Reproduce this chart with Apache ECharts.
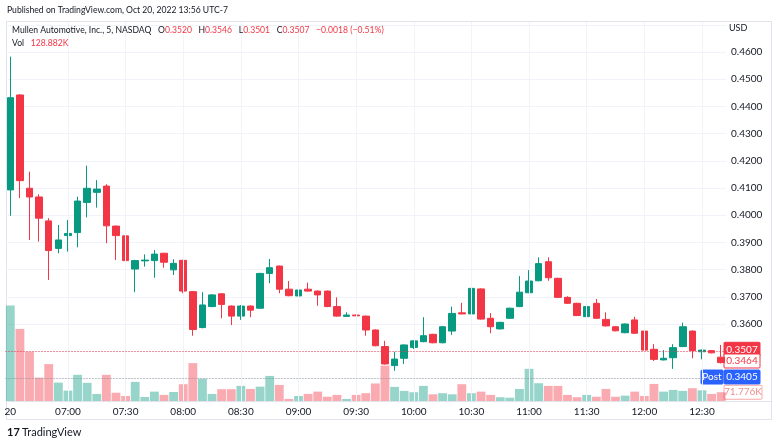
<!DOCTYPE html>
<html>
<head>
<meta charset="utf-8">
<script src="https://cdn.jsdelivr.net/npm/echarts@6/dist/echarts.min.js"></script>
<style>
  html, body { margin: 0; padding: 0; background: #fff; }
  #main { width: 772px; height: 439px; }
</style>
</head>
<body>
<div id="main"></div>
<script>
const times = [
  '06:30','06:35','06:40','06:45','06:50','06:55','07:00','07:05','07:10','07:15','07:20','07:25',
  '07:30','07:35','07:40','07:45','07:50','07:55','08:00','08:05','08:10','08:15','08:20','08:25',
  '08:30','08:35','08:40','08:45','08:50','08:55','09:00','09:05','09:10','09:15','09:20','09:25',
  '09:30','09:35','09:40','09:45','09:50','09:55','10:00','10:05','10:10','10:15','10:20','10:25',
  '10:30','10:35','10:40','10:45','10:50','10:55','11:00','11:05','11:10','11:15','11:20','11:25',
  '11:30','11:35','11:40','11:45','11:50','11:55','12:00','12:05','12:10','12:15','12:20','12:25',
  '12:30','12:35','12:40'
];
const gridTimes = ['07:00','07:30','08:00','08:30','09:00','09:30','10:00','10:30','11:00','11:30','12:00','12:30'];

const opens = [
  0.4093,0.4442,0.4099,0.4067,0.3979,0.3878,0.3925,0.3936,0.4047,0.4084,0.4107,0.3960,
  0.3924,0.3802,0.3832,0.3833,0.3860,0.3799,0.3834,0.3719,0.3587,0.3664,0.3711,0.3666,
  0.3629,0.3666,0.3658,0.3786,0.3813,0.3728,0.3703,0.3728,0.3721,0.3721,0.3664,0.3628,
  0.3633,0.3629,0.3578,0.3517,0.3447,0.3474,0.3514,0.3535,0.3562,0.3531,0.3574,0.3641,
  0.3637,0.3729,0.3621,0.3582,0.3621,0.3664,0.3715,0.3759,0.3829,0.3768,0.3698,0.3676,
  0.3627,0.3676,0.3617,0.3590,0.3568,0.3615,0.3574,0.3507,0.3468,0.3476,0.3517,0.3574,
  0.3498,0.3502,0.3478
];
const closes = [
  0.4432,0.4127,0.4067,0.3989,0.3870,0.3909,0.3933,0.4052,0.4099,0.4096,0.3961,0.3925,
  0.3833,0.3833,0.3835,0.3857,0.3827,0.3823,0.3721,0.3580,0.3670,0.3707,0.3672,0.3629,
  0.3666,0.3651,0.3786,0.3807,0.3728,0.3704,0.3725,0.3721,0.3707,0.3664,0.3629,0.3633,
  0.3630,0.3578,0.3520,0.3453,0.3471,0.3523,0.3538,0.3557,0.3531,0.3590,0.3639,0.3637,
  0.3731,0.3618,0.3590,0.3606,0.3658,0.3717,0.3758,0.3822,0.3770,0.3698,0.3676,0.3631,
  0.3664,0.3621,0.3593,0.3575,0.3600,0.3566,0.3504,0.3470,0.3474,0.3513,0.3590,0.3502,
  0.3504,0.3494,0.3458
];
const lows = [
  0.3998,0.4063,0.3909,0.3903,0.3762,0.3860,0.3866,0.3882,0.3992,0.4028,0.3897,0.3835,
  0.3799,0.3717,0.3811,0.3770,0.3807,0.3780,0.3713,0.3557,0.3584,0.3662,0.3621,0.3596,
  0.3615,0.3625,0.3656,0.3750,0.3713,0.3702,0.3698,0.3719,0.3667,0.3662,0.3627,0.3626,
  0.3629,0.3557,0.3518,0.3451,0.3428,0.3453,0.3508,0.3533,0.3529,0.3529,0.3560,0.3636,
  0.3635,0.3616,0.3566,0.3580,0.3619,0.3662,0.3713,0.3757,0.3759,0.3696,0.3674,0.3629,
  0.3625,0.3619,0.3591,0.3573,0.3566,0.3564,0.3502,0.3464,0.3466,0.3435,0.3515,0.3474,
  0.3470,0.3492,0.3455
];
const highs = [
  0.4583,0.4445,0.4160,0.4077,0.3989,0.3964,0.3982,0.4068,0.4182,0.4129,0.4114,0.3962,
  0.3960,0.3836,0.3856,0.3872,0.3862,0.3838,0.3836,0.3721,0.3717,0.3710,0.3712,0.3668,
  0.3670,0.3668,0.3788,0.3839,0.3815,0.3758,0.3737,0.3752,0.3723,0.3723,0.3698,0.3643,
  0.3634,0.3631,0.3580,0.3538,0.3498,0.3525,0.3540,0.3625,0.3564,0.3592,0.3664,0.3678,
  0.3733,0.3731,0.3640,0.3608,0.3660,0.3776,0.3798,0.3845,0.3845,0.3770,0.3702,0.3678,
  0.3666,0.3692,0.3643,0.3592,0.3602,0.3627,0.3576,0.3526,0.3504,0.3526,0.3605,0.3576,
  0.3506,0.3504,0.3523
];
// volume in thousands
const volumes = [
  784,592,404,192,303,151,85,215,149,58,215,68,
  41,157,33,77,50,74,138,311,182,58,97,97,
  124,99,118,206,132,17,41,58,77,35,50,17,
  50,64,144,291,116,83,72,124,55,64,55,138,
  64,77,50,31,27,99,264,146,124,124,50,31,
  50,35,99,35,44,77,41,140,77,91,83,105,
  88,58,72
];

const UP = '#089981', DOWN = '#F23645';
const FONT = 'Lato, "Noto Sans", sans-serif';
const TXT = '#131722';

const candleData = times.map((t, i) => [opens[i], closes[i], lows[i], highs[i]]);
const volData = volumes.map((v, i) => ({
  value: v,
  itemStyle: { color: closes[i] >= opens[i] ? 'rgba(8,153,129,0.42)' : 'rgba(242,54,69,0.42)' }
}));

const chart = echarts.init(document.getElementById('main'));

const option = {
  animation: false,
  backgroundColor: '#fff',
  grid: [
    { left: 5.5, right: 46, top: 24.8, bottom: 60.6 },   // price: 0.47 .. 0.34
    { left: 5.5, right: 46, top: 305.5, bottom: 38 },    // volume
    { left: 5.5, right: 46, top: 22, bottom: 38 }        // frame for vertical grid lines
  ],
  xAxis: [
    { gridIndex: 0, type: 'category', data: times, show: false },
    {
      gridIndex: 1, type: 'category', data: times,
      axisLine: { show: false },
      axisTick: { show: false },
      axisLabel: {
        interval: 5, color: TXT, fontSize: 10, fontFamily: FONT, margin: 6,
        formatter: (v, i) => i === 0 ? '20' : v
      },
      splitLine: { show: false }
    },
    { gridIndex: 2, type: 'category', data: times, show: false }
  ],
  yAxis: [
    {
      gridIndex: 0, type: 'value', position: 'right', min: 0.34, max: 0.47, interval: 0.01,
      axisLine: { show: false }, axisTick: { show: false },
      axisLabel: {
        color: TXT, fontSize: 10, fontFamily: FONT, margin: 5, align: 'left',
        formatter: v => (v < 0.355 || v > 0.465) ? '' : v.toFixed(4)
      },
      splitLine: { lineStyle: { color: '#f0f3fa', width: 1 } }
    },
    { gridIndex: 1, type: 'value', min: 0, max: 784, show: false },
    { gridIndex: 2, type: 'value', min: 0, max: 1, show: false }
  ],
  series: [
    {
      type: 'line', xAxisIndex: 2, yAxisIndex: 2, data: [], silent: true,
      markLine: {
        silent: true, symbol: ['none', 'none'], label: { show: false },
        lineStyle: { color: '#f0f3fa', type: 'solid', width: 1 },
        data: gridTimes.map(t => ({ xAxis: t }))
      }
    },
    {
      type: 'bar', xAxisIndex: 1, yAxisIndex: 1, data: volData,
      barCategoryGap: '8%'
    },
    {
      type: 'candlestick', xAxisIndex: 0, yAxisIndex: 0, data: candleData,
      barWidth: 7,
      itemStyle: { color: UP, color0: DOWN, borderColor: UP, borderColor0: DOWN, borderWidth: 1 },
      markLine: {
        silent: true, symbol: ['none', 'none'], label: { show: false },
        lineStyle: { type: [1, 2], width: 1 },
        data: [
          { yAxis: 0.3507, lineStyle: { color: DOWN, type: [1, 2], width: 1 } },
          { yAxis: 0.3405, lineStyle: { color: '#9598a1', type: [1, 2], width: 1 } }
        ]
      }
    }
  ]
};
chart.setOption(option);

// price tags on the right scale
const py = v => chart.convertToPixel({ yAxisIndex: 0 }, v);
const vy = v => chart.convertToPixel({ yAxisIndex: 1 }, v);
function tag(y, text, fill, stroke, color, x, w) {
  return {
    type: 'group', x: x, y: y - 7, z: 50,
    children: [
      { type: 'rect', shape: { x: 0, y: 0, width: w, height: 14, r: 1 },
        style: { fill: fill, stroke: stroke, lineWidth: 1 } },
      { type: 'text', x: w / 2, y: 7,
        style: { text: text, fill: color, font: '10px ' + FONT, align: 'center', verticalAlign: 'middle' } }
    ]
  };
}
const HF = '8.6px ' + FONT;

chart.setOption({
  graphic: [
    { type: 'text', x: 7, y: 10, style: { text: 'Published on TradingView.com, Oct 20, 2022 13:56 UTC-7', fill: TXT, font: HF, verticalAlign: 'middle' } },
    { type: 'rect', z: -1, shape: { x: 6.5, y: 21.5, width: 765, height: 398 }, style: { fill: 'none', stroke: '#e0e3eb', lineWidth: 1 } },
    { type: 'line', shape: { x1: 7, y1: 401.5, x2: 771, y2: 401.5 }, style: { stroke: '#e0e3eb', lineWidth: 1 } },
    {
      type: 'text', x: 12, y: 30, z: 50,
      style: {
        text: '{d|Mullen Automotive, Inc., 5, NASDAQ}  {d|O}{r|0.3520}  {d|H}{r|0.3546}  {d|L}{r|0.3501}  {d|C}{r|0.3507}  {r|−0.0018 (−0.51%)}',
        verticalAlign: 'middle',
        rich: {
          d: { fill: TXT, font: HF },
          r: { fill: DOWN, font: HF }
        }
      }
    },
    {
      type: 'text', x: 12, y: 43, z: 50,
      style: {
        text: '{d|Vol}  {r|128.882K}', verticalAlign: 'middle',
        rich: { d: { fill: TXT, font: HF }, r: { fill: DOWN, font: HF } }
      }
    },
    { type: 'text', x: 729, y: 28, style: { text: 'USD', fill: TXT, font: '9px ' + FONT, verticalAlign: 'middle' } },
    tag(py(0.3507), '0.3507', DOWN, DOWN, '#fff', 724, 36),
    tag(py(0.3464), '0.3464', '#fff', DOWN, DOWN, 724, 36),
    tag(py(0.3405), 'Post', '#2962FF', '#2962FF', '#fff', 701, 22),
    tag(py(0.3405), '0.3405', '#2962FF', '#2962FF', '#fff', 724, 36),
    tag(vy(71.776), '71.776K', '#fff', '#f7a9a7', '#ef8f8d', 724, 38),
    {
      type: 'group', x: 7, y: 427,
      children: [
        { type: 'text', x: 0, y: 5, style: { text: '17', fill: TXT, font: 'bold 11px ' + FONT, verticalAlign: 'middle' } },
        { type: 'text', x: 15, y: 5, style: { text: 'TradingView', fill: TXT, font: '11px ' + FONT, verticalAlign: 'middle' } }
      ]
    }
  ]
});
</script>
</body>
</html>
